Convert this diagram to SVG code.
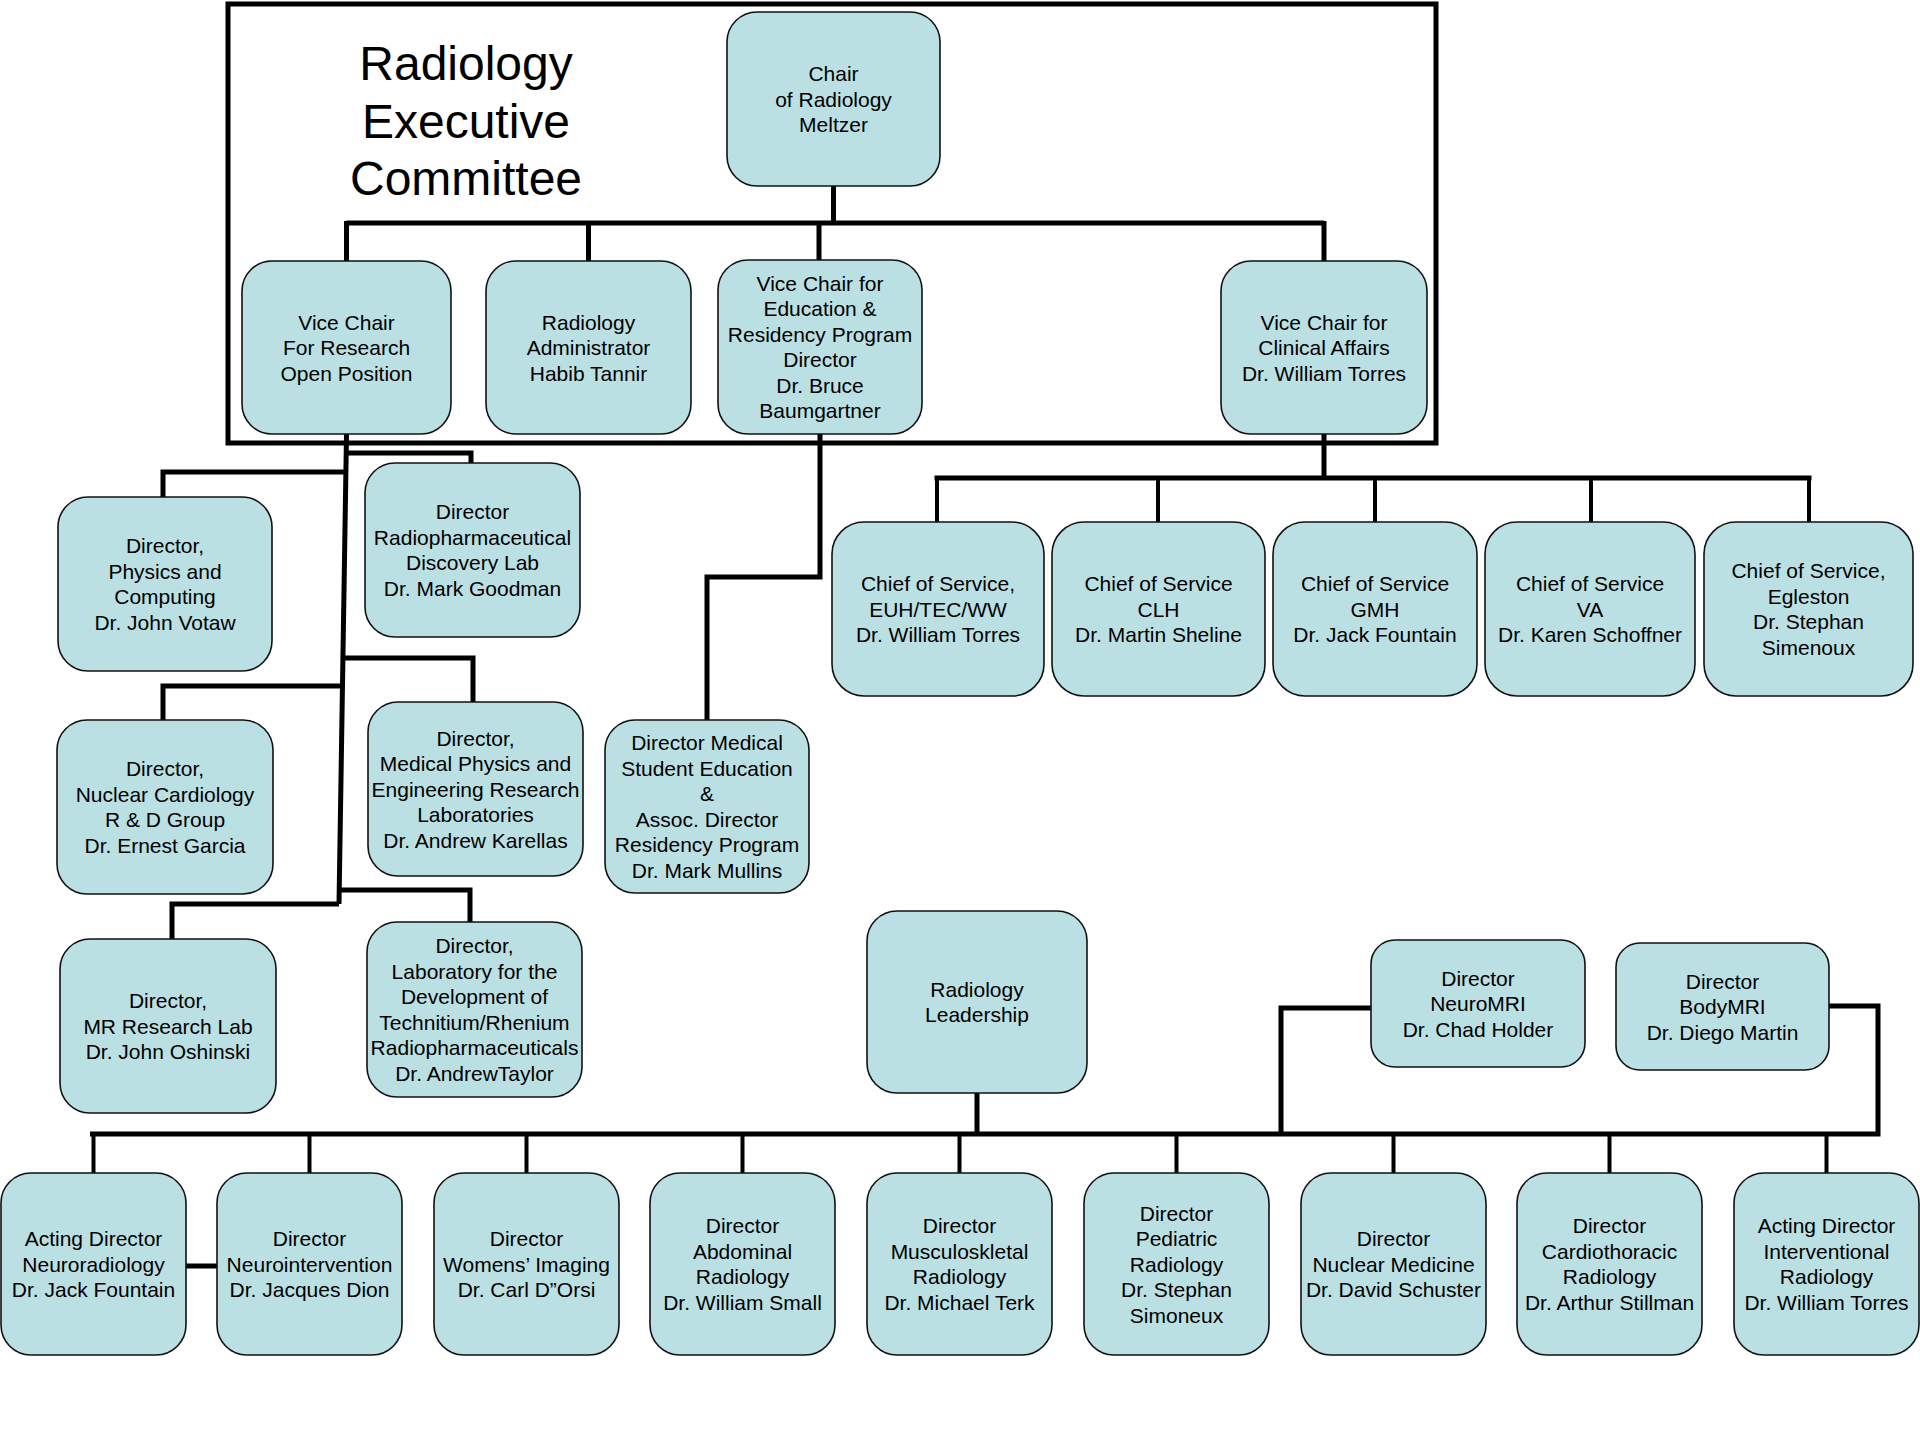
<svg xmlns="http://www.w3.org/2000/svg" width="1920" height="1440" viewBox="0 0 1920 1440">
<style>
.box{fill:#BBE0E3;stroke:#111;stroke-width:1.6}
.t{font-family:"Liberation Sans",Arial,sans-serif;font-size:21px;fill:#000;text-anchor:middle}
.title{font-family:"Liberation Sans",Arial,sans-serif;font-size:48px;fill:#000;text-anchor:middle}
.c{fill:none;stroke:#000;stroke-width:5;stroke-linejoin:miter}
.d{fill:none;stroke:#000;stroke-width:4}
</style>
<rect x="0" y="0" width="1920" height="1440" fill="#fff"/>
<rect id="frame" x="228" y="4" width="1208" height="439" fill="none" stroke="#000" stroke-width="5"/>
<text class="title" x="466" y="80">Radiology<tspan x="466" dy="57.5">Executive</tspan><tspan x="466" dy="57.5">Committee</tspan></text>

<g id="connectors">
<path class="c" d="M833.5 186V223M346.5 223H1324M346.5 221V261M588.5 221V261M819 221V260M1324 221V261"/>
<path class="c" d="M346.5 434L339 904"/>
<path class="c" d="M345 453H471V463M344 472H163V497M342 658H473V702M341 686H163V720M340 890H470V922M339 904H172V939"/>
<path class="c" d="M820 434V577H707V720"/>
<path class="c" d="M1324 434V478M934.5 478H1811.5"/>
<path class="d" d="M937 478V522M1158 478V522M1375 478V522M1591 478V522M1809 478V522"/>
<path class="c" d="M977 1093V1134M90 1134H1880.5M1281 1134V1008H1371M1878 1134V1006H1829"/>
<path class="d" d="M93.5 1134V1173M309.5 1134V1173M526.5 1134V1173M742.5 1134V1173M959.5 1134V1173M1176.5 1134V1173M1393.5 1134V1173M1609.5 1134V1173M1826.5 1134V1173"/>
<path class="c" d="M185 1266H217" stroke-width="6"/>
</g>

<g id="chair"><rect class="box" x="727" y="12" width="213" height="174" rx="30"/>
<text class="t" x="833.5" y="81">Chair<tspan x="833.5" dy="25.5">of Radiology</tspan><tspan x="833.5" dy="25.5">Meltzer</tspan></text></g>

<g id="vc-research"><rect class="box" x="242" y="261" width="209" height="173" rx="30"/>
<text class="t" x="346.5" y="329.5">Vice Chair<tspan x="346.5" dy="25.5">For Research</tspan><tspan x="346.5" dy="25.5">Open Position</tspan></text></g>

<g id="admin"><rect class="box" x="486" y="261" width="205" height="173" rx="30"/>
<text class="t" x="588.5" y="329.5">Radiology<tspan x="588.5" dy="25.5">Administrator</tspan><tspan x="588.5" dy="25.5">Habib Tannir</tspan></text></g>

<g id="vc-education"><rect class="box" x="718" y="260" width="204" height="174" rx="30"/>
<text class="t" x="820" y="290.75">Vice Chair for<tspan x="820" dy="25.5">Education &amp;</tspan><tspan x="820" dy="25.5">Residency Program</tspan><tspan x="820" dy="25.5">Director</tspan><tspan x="820" dy="25.5">Dr. Bruce</tspan><tspan x="820" dy="25.5">Baumgartner</tspan></text></g>

<g id="vc-clinical"><rect class="box" x="1221" y="261" width="206" height="173" rx="30"/>
<text class="t" x="1324" y="329.5">Vice Chair for<tspan x="1324" dy="25.5">Clinical Affairs</tspan><tspan x="1324" dy="25.5">Dr. William Torres</tspan></text></g>

<g id="physics"><rect class="box" x="58" y="497" width="214" height="174" rx="30"/>
<text class="t" x="165" y="553.25">Director,<tspan x="165" dy="25.5">Physics and</tspan><tspan x="165" dy="25.5">Computing</tspan><tspan x="165" dy="25.5">Dr. John Votaw</tspan></text></g>

<g id="radiopharm"><rect class="box" x="365" y="463" width="215" height="174" rx="30"/>
<text class="t" x="472.5" y="519.25">Director<tspan x="472.5" dy="25.5">Radiopharmaceutical</tspan><tspan x="472.5" dy="25.5">Discovery Lab</tspan><tspan x="472.5" dy="25.5">Dr. Mark Goodman</tspan></text></g>

<g id="nuc-cardiology"><rect class="box" x="57" y="720" width="216" height="174" rx="30"/>
<text class="t" x="165" y="776.25">Director,<tspan x="165" dy="25.5">Nuclear Cardiology</tspan><tspan x="165" dy="25.5">R &amp; D Group</tspan><tspan x="165" dy="25.5">Dr. Ernest Garcia</tspan></text></g>

<g id="med-physics"><rect class="box" x="368" y="702" width="215" height="174" rx="30"/>
<text class="t" x="475.5" y="745.5">Director,<tspan x="475.5" dy="25.5">Medical Physics and</tspan><tspan x="475.5" dy="25.5">Engineering Research</tspan><tspan x="475.5" dy="25.5">Laboratories</tspan><tspan x="475.5" dy="25.5">Dr. Andrew Karellas</tspan></text></g>

<g id="mr-lab"><rect class="box" x="60" y="939" width="216" height="174" rx="30"/>
<text class="t" x="168" y="1008">Director,<tspan x="168" dy="25.5">MR Research Lab</tspan><tspan x="168" dy="25.5">Dr. John Oshinski</tspan></text></g>

<g id="tc-lab"><rect class="box" x="367" y="922" width="215" height="175" rx="30"/>
<text class="t" x="474.5" y="953.25">Director,<tspan x="474.5" dy="25.5">Laboratory for the</tspan><tspan x="474.5" dy="25.5">Development of</tspan><tspan x="474.5" dy="25.5">Technitium/Rhenium</tspan><tspan x="474.5" dy="25.5">Radiopharmaceuticals</tspan><tspan x="474.5" dy="25.5">Dr. AndrewTaylor</tspan></text></g>

<g id="med-student"><rect class="box" x="605" y="720" width="204" height="173" rx="30"/>
<text class="t" x="707" y="750.25">Director Medical<tspan x="707" dy="25.5">Student Education</tspan><tspan x="707" dy="25.5">&amp;</tspan><tspan x="707" dy="25.5">Assoc. Director</tspan><tspan x="707" dy="25.5">Residency Program</tspan><tspan x="707" dy="25.5">Dr. Mark Mullins</tspan></text></g>

<g id="chief-euh"><rect class="box" x="832" y="522" width="212" height="174" rx="32"/>
<text class="t" x="938" y="591">Chief of Service,<tspan x="938" dy="25.5">EUH/TEC/WW</tspan><tspan x="938" dy="25.5">Dr. William Torres</tspan></text></g>

<g id="chief-clh"><rect class="box" x="1052" y="522" width="213" height="174" rx="32"/>
<text class="t" x="1158.5" y="591">Chief of Service<tspan x="1158.5" dy="25.5">CLH</tspan><tspan x="1158.5" dy="25.5">Dr. Martin Sheline</tspan></text></g>

<g id="chief-gmh"><rect class="box" x="1273" y="522" width="204" height="174" rx="32"/>
<text class="t" x="1375" y="591">Chief of Service<tspan x="1375" dy="25.5">GMH</tspan><tspan x="1375" dy="25.5">Dr. Jack Fountain</tspan></text></g>

<g id="chief-va"><rect class="box" x="1485" y="522" width="210" height="174" rx="32"/>
<text class="t" x="1590" y="591">Chief of Service<tspan x="1590" dy="25.5">VA</tspan><tspan x="1590" dy="25.5">Dr. Karen Schoffner</tspan></text></g>

<g id="chief-egleston"><rect class="box" x="1704" y="522" width="209" height="174" rx="32"/>
<text class="t" x="1808.5" y="578.25">Chief of Service,<tspan x="1808.5" dy="25.5">Egleston</tspan><tspan x="1808.5" dy="25.5">Dr. Stephan</tspan><tspan x="1808.5" dy="25.5">Simenoux</tspan></text></g>

<g id="leadership"><rect class="box" x="867" y="911" width="220" height="182" rx="30"/>
<text class="t" x="977" y="996.75">Radiology<tspan x="977" dy="25.5">Leadership</tspan></text></g>

<g id="neuromri"><rect class="box" x="1371" y="940" width="214" height="127" rx="24"/>
<text class="t" x="1478" y="985.5">Director<tspan x="1478" dy="25.5">NeuroMRI</tspan><tspan x="1478" dy="25.5">Dr. Chad Holder</tspan></text></g>

<g id="bodymri"><rect class="box" x="1616" y="943" width="213" height="127" rx="24"/>
<text class="t" x="1722.5" y="988.5">Director<tspan x="1722.5" dy="25.5">BodyMRI</tspan><tspan x="1722.5" dy="25.5">Dr. Diego Martin</tspan></text></g>

<g id="neuroradiology"><rect class="box" x="1" y="1173" width="185" height="182" rx="30"/>
<text class="t" x="93.5" y="1246">Acting Director<tspan x="93.5" dy="25.5">Neuroradiology</tspan><tspan x="93.5" dy="25.5">Dr. Jack Fountain</tspan></text></g>

<g id="neurointervention"><rect class="box" x="217" y="1173" width="185" height="182" rx="30"/>
<text class="t" x="309.5" y="1246">Director<tspan x="309.5" dy="25.5">Neurointervention</tspan><tspan x="309.5" dy="25.5">Dr. Jacques Dion</tspan></text></g>

<g id="womens"><rect class="box" x="434" y="1173" width="185" height="182" rx="30"/>
<text class="t" x="526.5" y="1246">Director<tspan x="526.5" dy="25.5">Womens’ Imaging</tspan><tspan x="526.5" dy="25.5">Dr. Carl D”Orsi</tspan></text></g>

<g id="abdominal"><rect class="box" x="650" y="1173" width="185" height="182" rx="30"/>
<text class="t" x="742.5" y="1233.25">Director<tspan x="742.5" dy="25.5">Abdominal</tspan><tspan x="742.5" dy="25.5">Radiology</tspan><tspan x="742.5" dy="25.5">Dr. William Small</tspan></text></g>

<g id="msk"><rect class="box" x="867" y="1173" width="185" height="182" rx="30"/>
<text class="t" x="959.5" y="1233.25">Director<tspan x="959.5" dy="25.5">Musculoskletal</tspan><tspan x="959.5" dy="25.5">Radiology</tspan><tspan x="959.5" dy="25.5">Dr. Michael Terk</tspan></text></g>

<g id="pediatric"><rect class="box" x="1084" y="1173" width="185" height="182" rx="30"/>
<text class="t" x="1176.5" y="1220.5">Director<tspan x="1176.5" dy="25.5">Pediatric</tspan><tspan x="1176.5" dy="25.5">Radiology</tspan><tspan x="1176.5" dy="25.5">Dr. Stephan</tspan><tspan x="1176.5" dy="25.5">Simoneux</tspan></text></g>

<g id="nuclear-medicine"><rect class="box" x="1301" y="1173" width="185" height="182" rx="30"/>
<text class="t" x="1393.5" y="1246">Director<tspan x="1393.5" dy="25.5">Nuclear Medicine</tspan><tspan x="1393.5" dy="25.5">Dr. David Schuster</tspan></text></g>

<g id="cardiothoracic"><rect class="box" x="1517" y="1173" width="185" height="182" rx="30"/>
<text class="t" x="1609.5" y="1233.25">Director<tspan x="1609.5" dy="25.5">Cardiothoracic</tspan><tspan x="1609.5" dy="25.5">Radiology</tspan><tspan x="1609.5" dy="25.5">Dr. Arthur Stillman</tspan></text></g>

<g id="interventional"><rect class="box" x="1734" y="1173" width="185" height="182" rx="30"/>
<text class="t" x="1826.5" y="1233.25">Acting Director<tspan x="1826.5" dy="25.5">Interventional</tspan><tspan x="1826.5" dy="25.5">Radiology</tspan><tspan x="1826.5" dy="25.5">Dr. William Torres</tspan></text></g>
</svg>
